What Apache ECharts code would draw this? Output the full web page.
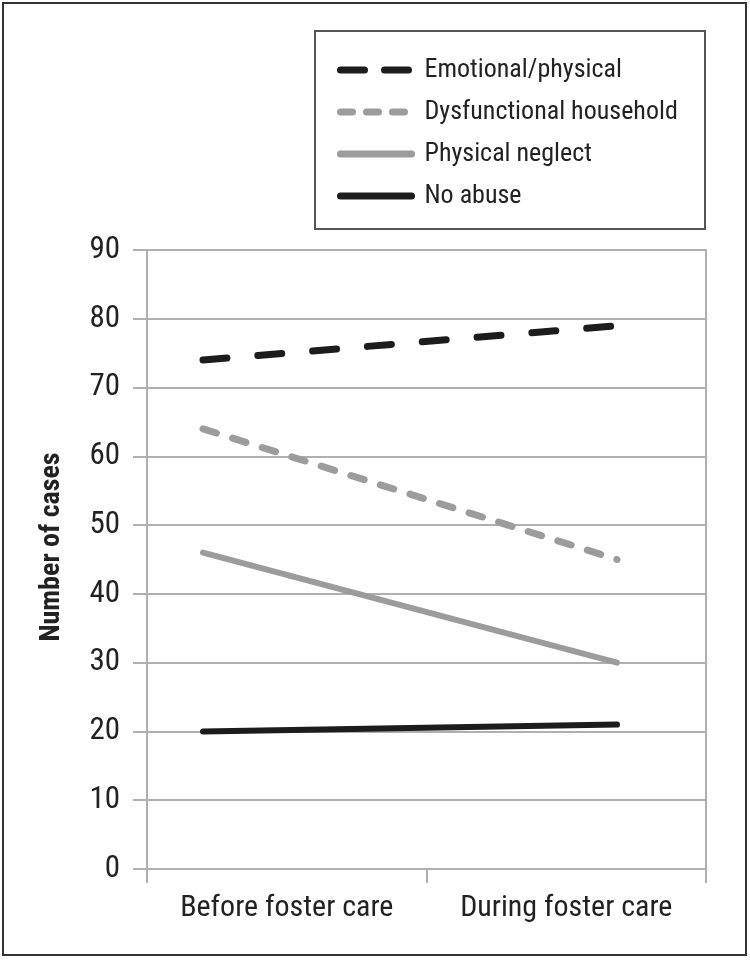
<!DOCTYPE html>
<html>
<head>
<meta charset="utf-8">
<script src="https://cdn.jsdelivr.net/npm/echarts@6/dist/echarts.min.js"></script>
<style>html,body{margin:0;padding:0;background:#fff}#c{width:750px;height:960px}</style>
</head>
<body>
<div id="c"></div>
<script>
const categories = ['Before foster care', 'During foster care'];
const seriesNames = ['Emotional/physical', 'Dysfunctional household', 'Physical neglect', 'No abuse'];
const emotionalPhysical = [74, 79];
const dysfunctionalHousehold = [64, 45];
const physicalNeglect = [46, 30];
const noAbuse = [20, 21];
const yTicks = [0, 10, 20, 30, 40, 50, 60, 70, 80, 90];

const FONT = "'Liberation Sans Narrow', 'Arial Narrow', 'Roboto Condensed', sans-serif";
const BLACK = '#1c1c1c', GRAY = '#9c9c9c', AXIS = '#b0b0b0';

const chart = echarts.init(document.getElementById('c'), null, {renderer: 'canvas'});
function lineSeries(name, data, color, width, dash) {
  return {
    name, type: 'line', data, xAxisIndex: 1, yAxisIndex: 1,
    symbol: 'none', silent: true, animation: false,
    itemStyle: {color},
    lineStyle: {color, width, type: dash || 'solid', cap: 'round'}
  };
}
const legendStyles = [
  {color: BLACK, width: 7, type: [24, 20]},
  {color: GRAY, width: 7, type: [12, 14]},
  {color: GRAY, width: 7, type: 'solid'},
  {color: BLACK, width: 7, type: 'solid'}
];
chart.setOption({
  animation: false,
  backgroundColor: '#fff',
  textStyle: {fontFamily: FONT},
  grid: [
    {left: 147, right: 44, top: 250, bottom: 91, show: true, borderColor: AXIS, borderWidth: 2, backgroundColor: 'transparent'},
    {left: 203, right: 133, top: 250, bottom: 91}
  ],
  legend: {
    orient: 'vertical', left: 332, top: 52,
    itemWidth: 71, itemHeight: 10, itemGap: 16,
    data: seriesNames.map((n, i) => ({
      name: n,
      itemStyle: {opacity: 0},
      lineStyle: Object.assign({cap: 'round'}, legendStyles[i])
    })),
    textStyle: {fontFamily: FONT, fontSize: 26, color: '#222', padding: [0, 0, 0, 8]},
    selectedMode: false
  },
  xAxis: [
    {type: 'category', gridIndex: 0, data: categories, boundaryGap: true,
     axisLine: {show: true, lineStyle: {color: AXIS, width: 2}},
     axisTick: {show: true, length: 14, lineStyle: {color: AXIS, width: 2}},
     axisLabel: {fontFamily: FONT, fontSize: 30, color: '#222', margin: 24},
     splitLine: {show: false}},
    {type: 'category', gridIndex: 1, data: categories, boundaryGap: false, show: false}
  ],
  yAxis: [
    {type: 'value', gridIndex: 0, min: yTicks[0], max: yTicks[yTicks.length - 1], interval: 10,
     axisLine: {show: true, lineStyle: {color: AXIS, width: 2}},
     axisTick: {show: true, length: 14, lineStyle: {color: AXIS, width: 2}},
     axisLabel: {fontFamily: FONT, fontSize: 31, color: '#222', margin: 27},
     splitLine: {show: true, lineStyle: {color: AXIS, width: 2}}},
    {type: 'value', gridIndex: 1, min: yTicks[0], max: yTicks[yTicks.length - 1], show: false}
  ],
  series: [
    lineSeries(seriesNames[0], emotionalPhysical, BLACK, 7, [24, 31]),
    lineSeries(seriesNames[1], dysfunctionalHousehold, GRAY, 7, [14, 17]),
    lineSeries(seriesNames[2], physicalNeglect, GRAY, 6),
    lineSeries(seriesNames[3], noAbuse, BLACK, 6)
  ],
  graphic: [
    {type: 'rect', shape: {x: 3, y: 3, width: 743, height: 952}, style: {fill: 'none', stroke: '#333', lineWidth: 2}, silent: true, z: -1},
    {type: 'rect', shape: {x: 315, y: 31, width: 390, height: 198}, style: {fill: 'none', stroke: '#555', lineWidth: 2}, silent: true},
    {type: 'text', x: 52, y: 547, rotation: Math.PI / 2,
     style: {text: 'Number of cases', font: "bold 28px " + FONT, fill: '#222', textAlign: 'center', textVerticalAlign: 'middle'}}
  ]
});
</script>
</body>
</html>
